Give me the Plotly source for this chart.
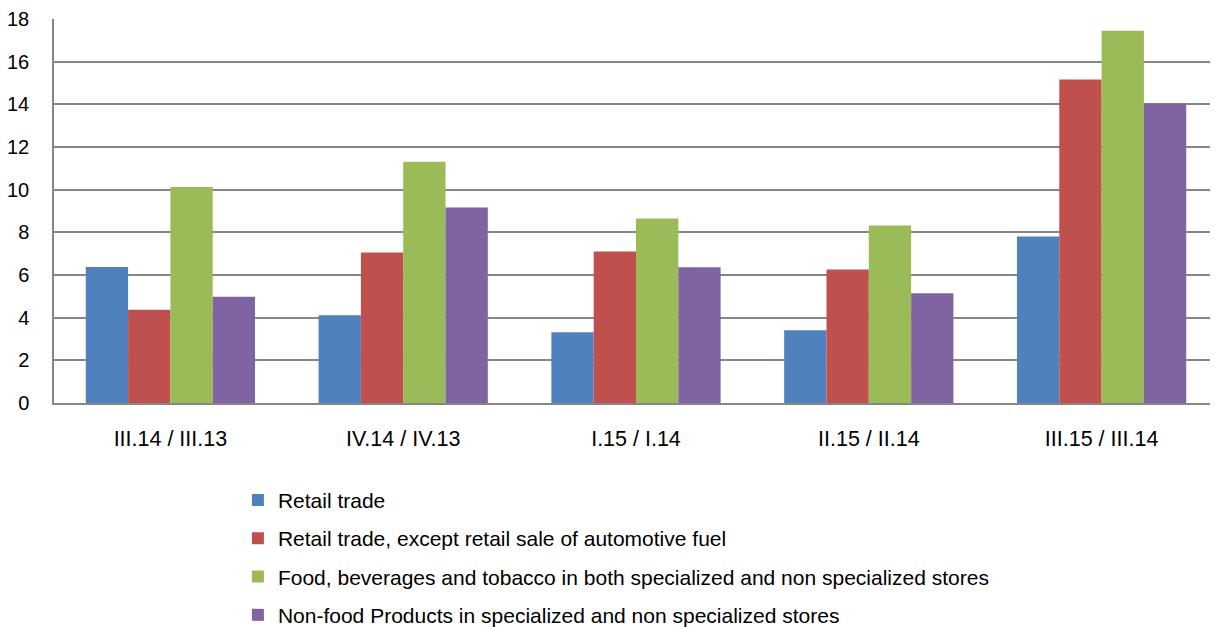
import plotly.graph_objects as go

categories = ["III.14 / III.13", "IV.14 / IV.13", "I.15 / I.14", "II.15 / II.14", "III.15 / III.14"]
series_names = [
    "Retail trade",
    "Retail trade, except retail sale of automotive fuel",
    "Food, beverages and tobacco in both specialized and non specialized stores",
    "Non-food Products in specialized and non specialized stores",
]
retail = [6.38, 4.11, 3.32, 3.41, 7.81]
retail_ex_fuel = [4.37, 7.06, 7.10, 6.26, 15.16]
food = [10.13, 11.31, 8.65, 8.32, 17.45]
non_food = [4.98, 9.16, 6.36, 5.14, 14.03]
colors = ["#4F81BD", "#C0504D", "#9BBB59", "#8064A2"]
y_ticks = [0, 2, 4, 6, 8, 10, 12, 14, 16, 18]

fig = go.Figure()
for i, (name, vals) in enumerate(zip(series_names, [retail, retail_ex_fuel, food, non_food])):
    fig.add_trace(go.Bar(x=categories, y=vals, name=name, marker_color=colors[i],
                         marker_line_width=0, legendgroup=str(i)))

fig.update_layout(
    width=1210, height=619,
    margin=dict(l=46, r=0, t=11, b=224, autoexpand=False),
    paper_bgcolor="white", plot_bgcolor="white",
    barmode="group", bargap=0.273, bargroupgap=0,
    font=dict(family="Liberation Sans, Arial", size=21, color="#000000"),
    showlegend=True,
    legend=dict(orientation="v", x=0.158, xanchor="left", y=-0.2, yanchor="top",
                tracegroupgap=8, font=dict(size=21), bgcolor="rgba(0,0,0,0)"),
    xaxis=dict(showline=True, linecolor="#868686", linewidth=1.5, ticks="",
               tickfont=dict(size=21.5), ticklabelstandoff=15),
    yaxis=dict(range=[0, 18], tickvals=y_ticks, showgrid=True, gridcolor="#868686",
               gridwidth=1.5, showline=True, linecolor="#868686", linewidth=1.5,
               ticks="", tickfont=dict(size=20), zeroline=False, ticklabelstandoff=19),
)
fig.write_html("out.html")
